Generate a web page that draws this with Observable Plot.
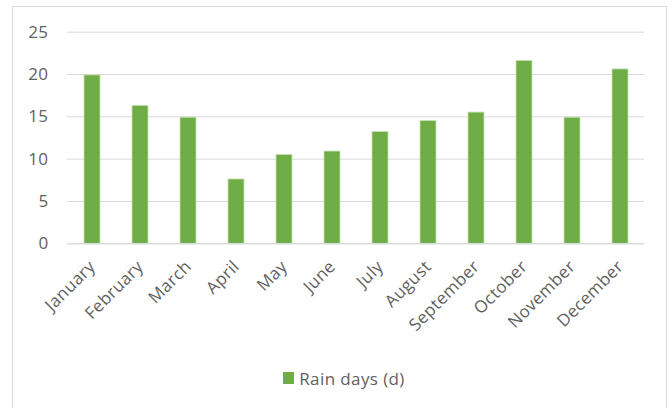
<!DOCTYPE html>
<html>
<head>
<meta charset="utf-8">
<script src="https://cdn.jsdelivr.net/npm/d3@7"></script>
<script src="https://cdn.jsdelivr.net/npm/@observablehq/plot@0.6"></script>
<style>
  html, body { margin: 0; padding: 0; background: #fff; }
  body { width: 672px; height: 408px; position: relative; overflow: hidden; font-family: "Open Sans", sans-serif; }
  #frame { position: absolute; left: 12px; top: 6px; width: 655px; height: 420px; border: 1px solid #d9d9d9; box-sizing: border-box; pointer-events: none; }
  #chart { position: absolute; left: 0; top: 0; }
  #chart svg text { letter-spacing: 0.4px; }
  #legend { position: absolute; left: 0; top: 363px; width: 672px; height: 30px; display: flex; justify-content: center; align-items: center; padding-left: 16px; box-sizing: border-box; color: #5f5f5f; font-size: 17px; letter-spacing: 0.4px; }
  #legend .sw { display: inline-block; width: 11px; height: 12px; background: #70ad47; margin-right: 5px; }
</style>
</head>
<body>
<div id="chart"></div>
<div id="legend"><span class="sw"></span><span>Rain days (d)</span></div>
<div id="frame"></div>
<script>
const months = ["January","February","March","April","May","June","July","August","September","October","November","December"];
const rainDays = [19.9, 16.3, 14.9, 7.6, 10.5, 10.9, 13.2, 14.5, 15.5, 21.6, 14.9, 20.6];
const yTicks = [0, 5, 10, 15, 20, 25];
const seriesName = "Rain days (d)";

const data = months.map((m, i) => ({month: m, value: rainDays[i]}));

const chart = Plot.plot({
  width: 672,
  height: 360,
  marginLeft: 67,
  marginRight: 28,
  marginTop: 31.7,
  marginBottom: 116.7,
  style: {fontFamily: "Open Sans, sans-serif", fontSize: "17px", color: "#5f5f5f", background: "transparent"},
  x: {domain: months, paddingInner: 0.67, paddingOuter: 0.335, label: null},
  y: {domain: [0, 25], ticks: yTicks, label: null},
  marks: [
    Plot.gridY(yTicks, {stroke: "#d9d9d9", strokeOpacity: 1, strokeWidth: 1}),
    Plot.axisY({ticks: yTicks, tickSize: 0, tickPadding: 19, label: null, fontSize: 17, fill: "#5f5f5f"}),
    Plot.axisX({tickSize: 0, tickPadding: 20, tickRotate: -45, label: null, fontSize: 17, fill: "#5f5f5f"}),
    Plot.barY(data, {x: "month", y: "value", fill: "#70ad47", stroke: "#c5e0b4", strokeWidth: 0.8}),
    Plot.ruleY([0], {stroke: "#d9d9d9"})
  ]
});
document.getElementById("chart").appendChild(chart);
</script>
</body>
</html>
